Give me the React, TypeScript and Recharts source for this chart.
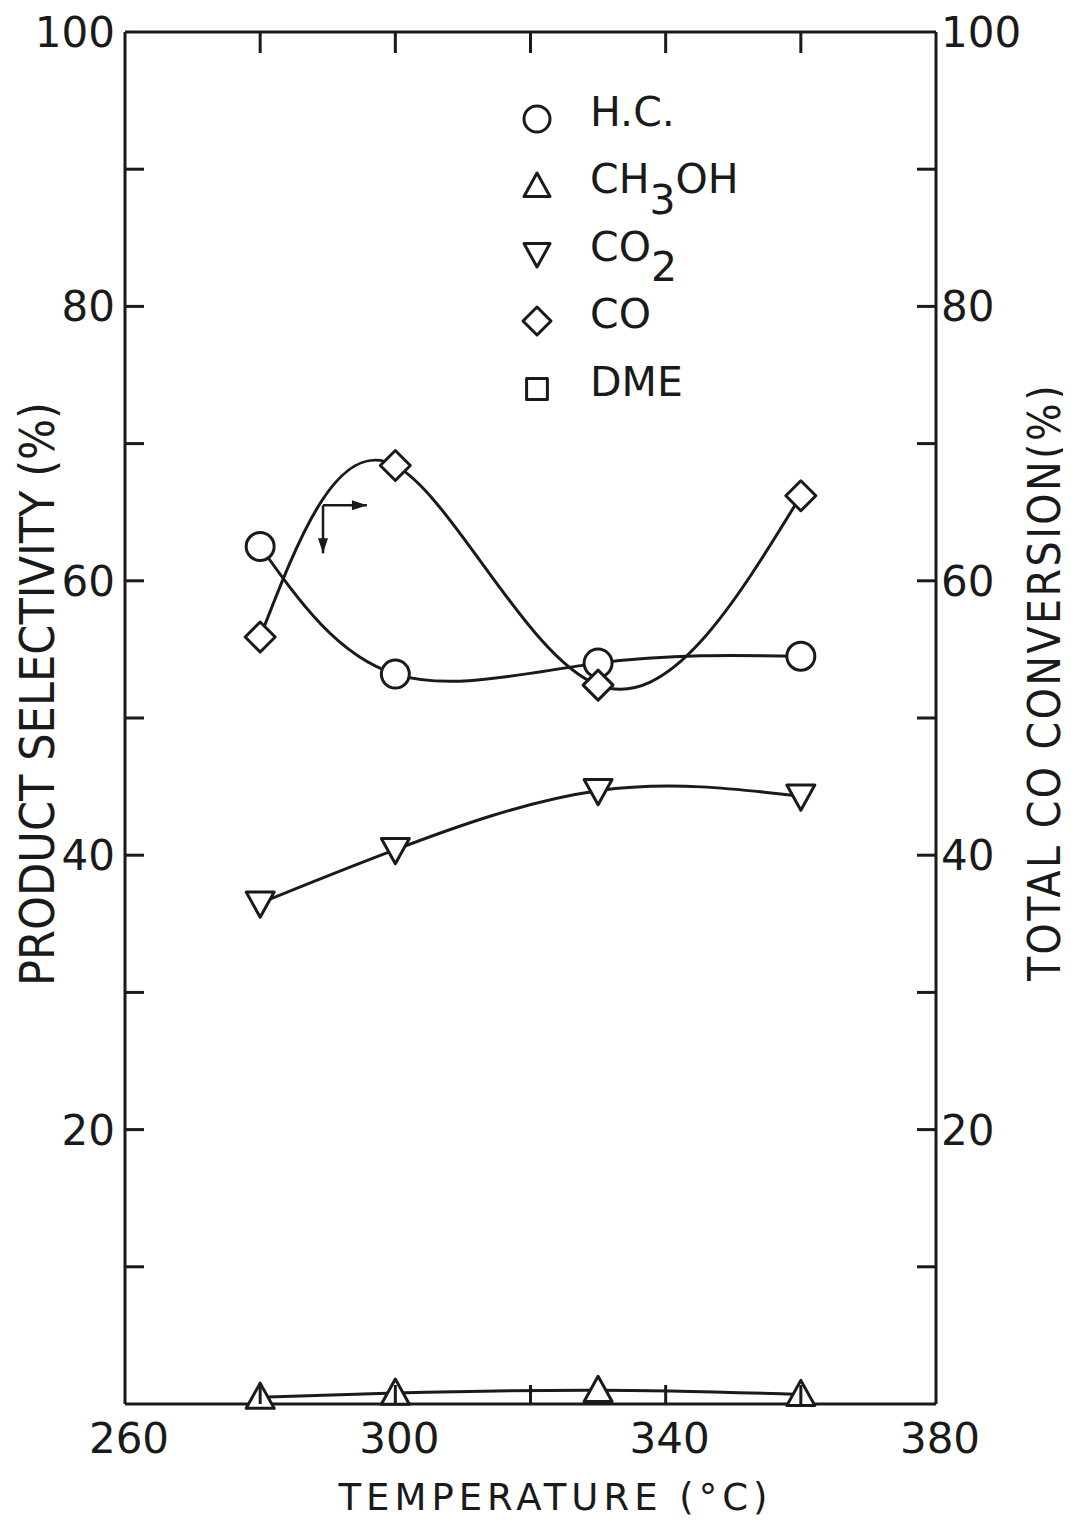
import React from 'react';
import { LineChart, Line, XAxis, YAxis, Legend, ReferenceLine } from 'recharts';

// ---- data ----
const temperatures = [280, 300, 330, 360];
const hcSelectivity = [62.5, 53.2, 54.0, 54.5];
const ch3ohSelectivity = [0.5, 0.8, 1.0, 0.7];
const co2Selectivity = [36.5, 40.4, 44.7, 44.3];
const coConversion = [55.9, 68.4, 52.4, 66.2];

const xTicks = [260, 280, 300, 320, 340, 360, 380];
const xTickLabels = [260, 300, 340, 380];
const yTicks = [0, 10, 20, 30, 40, 50, 60, 70, 80, 90, 100];
const yTickLabels = [20, 40, 60, 80, 100];

const legendItems = [
  { key: 'hc', shape: 'circle', label: 'H.C.' },
  { key: 'ch3oh', shape: 'triangle', label: 'CH3OH' },
  { key: 'co2', shape: 'triangleDown', label: 'CO2' },
  { key: 'co', shape: 'diamond', label: 'CO' },
  { key: 'dme', shape: 'square', label: 'DME' },
];

const data = temperatures.map((t, i) => ({
  t,
  hc: hcSelectivity[i],
  ch3oh: ch3ohSelectivity[i],
  co2: co2Selectivity[i],
  co: coConversion[i],
}));

const FONT = "'DejaVu Sans', sans-serif";
const TITLE_FONT = "'DejaVu Sans Condensed', 'DejaVu Sans', sans-serif";
const INK = '#1a1a1a';
const SW = 3;
const TICK = 19;

function Marker({ shape, cx, cy, s = 14 }: any) {
  const common = { fill: '#fff', stroke: INK, strokeWidth: SW, strokeLinejoin: 'round' as const };
  if (shape === 'circle') return <circle cx={cx} cy={cy} r={s} {...common} />;
  if (shape === 'diamond')
    return <polygon points={`${cx},${cy - s - 1} ${cx + s + 1},${cy} ${cx},${cy + s + 1} ${cx - s - 1},${cy}`} {...common} />;
  if (shape === 'triangle')
    return <polygon points={`${cx},${cy - s} ${cx + s},${cy + s * 0.8} ${cx - s},${cy + s * 0.8}`} {...common} />;
  if (shape === 'triangleDown')
    return <polygon points={`${cx},${cy + s} ${cx + s},${cy - s * 0.8} ${cx - s},${cy - s * 0.8}`} {...common} />;
  return <rect x={cx - s * 0.8} y={cy - s * 0.8} width={s * 1.6} height={s * 1.6} {...common} />;
}

const dotFor = (shape: string) => (props: any) => {
  const { cx, cy, index } = props;
  if (cx == null || cy == null) return <g key={index} />;
  return <Marker key={index} shape={shape} cx={cx} cy={cy} />;
};

const BottomTick = (props: any) => {
  const { x, y, payload } = props;
  const v = payload.value;
  return (
    <g>
      {v > 260 && v < 380 && <line x1={x} y1={y} x2={x} y2={y - TICK} stroke={INK} strokeWidth={SW} />}
      {xTickLabels.includes(v) && (
        <text x={x + 4} y={y + 49} textAnchor="middle" fontFamily={FONT} fontSize={42} fill={INK}>
          {v}
        </text>
      )}
    </g>
  );
};

const TopTick = (props: any) => {
  const { x, y, payload } = props;
  const v = payload.value;
  if (v <= 260 || v >= 380) return <g />;
  return <line x1={x} y1={y} x2={x} y2={y + TICK + 2} stroke={INK} strokeWidth={SW} />;
};

const LeftTick = (props: any) => {
  const { x, y, payload } = props;
  const v = payload.value;
  return (
    <g>
      {v > 0 && v < 100 && <line x1={x} y1={y} x2={x + TICK} y2={y} stroke={INK} strokeWidth={SW} />}
      {yTickLabels.includes(v) && (
        <text x={x - 10} y={y + 15} textAnchor="end" fontFamily={FONT} fontSize={42} fill={INK}>
          {v}
        </text>
      )}
    </g>
  );
};

const RightTick = (props: any) => {
  const { x, y, payload } = props;
  const v = payload.value;
  return (
    <g>
      {v > 0 && v < 100 && <line x1={x} y1={y} x2={x - TICK} y2={y} stroke={INK} strokeWidth={SW} />}
      {yTickLabels.includes(v) && (
        <text x={x + 5} y={y + 15} textAnchor="start" fontFamily={FONT} fontSize={42} fill={INK}>
          {v}
        </text>
      )}
    </g>
  );
};

const LeftTitle = (props: any) => {
  const vb = props.viewBox || {};
  const cx = vb.x + 22;
  const cy = vb.y + vb.height / 2 - 24;
  return (
    <text
      x={cx}
      y={cy}
      transform={`rotate(-90 ${cx} ${cy})`}
      textAnchor="middle"
      dominantBaseline="central"
      fontFamily={TITLE_FONT}
      fontSize={48}
      fill={INK}
    >
      PRODUCT  SELECTIVITY (%)
    </text>
  );
};

const RightTitle = (props: any) => {
  const vb = props.viewBox || {};
  const cx = vb.x + 108;
  const cy = vb.y + vb.height / 2 - 36;
  return (
    <text
      x={cx}
      y={cy}
      transform={`rotate(-90 ${cx} ${cy})`}
      textAnchor="middle"
      dominantBaseline="central"
      fontFamily={TITLE_FONT}
      fontSize={44}
      letterSpacing={2.5}
      fill={INK}
    >
      TOTAL  CO  CONVERSION(%)
    </text>
  );
};

const BottomTitle = (props: any) => {
  const vb = props.viewBox || {};
  const cx = vb.x + vb.width / 2 + 25;
  const y = vb.y + 106;
  return (
    <text x={cx} y={y} textAnchor="middle" fontFamily={FONT} fontSize={37} letterSpacing={5} fill={INK}>
      TEMPERATURE  (°C)
    </text>
  );
};

function LegendLabel({ label }: { label: string }) {
  const sub = { fontSize: '1em', position: 'relative' as const, top: '0.5em', lineHeight: 0 };
  if (label === 'CH3OH')
    return (
      <span>
        CH<span style={sub}>3</span>OH
      </span>
    );
  if (label === 'CO2')
    return (
      <span>
        CO<span style={sub}>2</span>
      </span>
    );
  return <span>{label}</span>;
}

const LegendContent = () => (
  <div style={{ fontFamily: FONT, fontSize: 41, color: INK }}>
    {legendItems.map((it) => (
      <div key={it.key} style={{ display: 'flex', alignItems: 'center', height: 67.5 }}>
        <svg width={40} height={40} style={{ marginRight: 33, marginTop: 14 }}>
          <Marker shape={it.shape} cx={20} cy={20} s={13} />
        </svg>
        <LegendLabel label={it.label} />
      </div>
    ))}
  </div>
);

const ArrowShape = (dir: 'right' | 'down') => (props: any) => {
  const { x1, y1, x2, y2 } = props;
  if (x1 == null) return <g />;
  const head =
    dir === 'right'
      ? `${x2},${y2} ${x2 - 15},${y2 - 5} ${x2 - 15},${y2 + 5}`
      : `${x2},${y2} ${x2 - 5},${y2 - 15} ${x2 + 5},${y2 - 15}`;
  return (
    <g>
      <line x1={x1} y1={y1} x2={x2} y2={y2} stroke={INK} strokeWidth={2.5} />
      <polygon points={head} fill={INK} />
    </g>
  );
};

export default function App() {
  return (
    <div style={{ width: 1063, height: 1512, background: '#fff' }}>
      <LineChart
        width={1063}
        height={1512}
        data={data}
        margin={{ top: 14, right: 25, bottom: 16, left: 7 }}
      >
        <XAxis
          xAxisId="bottom"
          dataKey="t"
          type="number"
          domain={[260, 380]}
          ticks={xTicks}
          interval={0}
          orientation="bottom"
          height={100}
          tickSize={0}
          tickMargin={0}
          tickLine={false}
          axisLine={{ stroke: INK, strokeWidth: SW }}
          tick={<BottomTick />}
          label={<BottomTitle />}
        />
        <XAxis
          xAxisId="top"
          dataKey="t"
          type="number"
          domain={[260, 380]}
          ticks={xTicks}
          interval={0}
          orientation="top"
          height={10}
          tickSize={0}
          tickMargin={0}
          tickLine={false}
          axisLine={{ stroke: INK, strokeWidth: SW }}
          tick={<TopTick />}
        />
        <YAxis
          yAxisId="left"
          type="number"
          domain={[0, 100]}
          ticks={yTicks}
          interval={0}
          orientation="left"
          width={110}
          tickSize={0}
          tickMargin={0}
          tickLine={false}
          axisLine={{ stroke: INK, strokeWidth: SW }}
          tick={<LeftTick />}
          label={<LeftTitle />}
        />
        <YAxis
          yAxisId="right"
          type="number"
          domain={[0, 100]}
          ticks={yTicks}
          interval={0}
          orientation="right"
          width={110}
          tickSize={0}
          tickMargin={0}
          tickLine={false}
          axisLine={{ stroke: INK, strokeWidth: SW }}
          tick={<RightTick />}
          label={<RightTitle />}
        />
        <Legend
          layout="vertical"
          align="center"
          verticalAlign="middle"
          content={<LegendContent />}
          wrapperStyle={{ position: 'absolute', left: 509, top: 70, width: 280, height: 350 }}
        />
        <Line
          xAxisId="bottom"
          yAxisId="left"
          dataKey="ch3oh"
          type="natural"
          stroke={INK}
          strokeWidth={SW}
          dot={dotFor('triangle')}
          activeDot={false}
          isAnimationActive={false}
        />
        <Line
          xAxisId="bottom"
          yAxisId="left"
          dataKey="co2"
          type="natural"
          stroke={INK}
          strokeWidth={SW}
          dot={dotFor('triangleDown')}
          activeDot={false}
          isAnimationActive={false}
        />
        <Line
          xAxisId="bottom"
          yAxisId="left"
          dataKey="hc"
          type="natural"
          stroke={INK}
          strokeWidth={SW}
          dot={dotFor('circle')}
          activeDot={false}
          isAnimationActive={false}
        />
        <Line
          xAxisId="bottom"
          yAxisId="right"
          dataKey="co"
          type="natural"
          stroke={INK}
          strokeWidth={SW}
          dot={dotFor('diamond')}
          activeDot={false}
          isAnimationActive={false}
        />
        <ReferenceLine
          xAxisId="bottom"
          yAxisId="left"
          segment={[{ x: 289.3, y: 65.5 }, { x: 295.8, y: 65.5 }]}
          shape={ArrowShape('right')}
        />
        <ReferenceLine
          xAxisId="bottom"
          yAxisId="left"
          segment={[{ x: 289.3, y: 65.5 }, { x: 289.3, y: 62.0 }]}
          shape={ArrowShape('down')}
        />
      </LineChart>
    </div>
  );
}
